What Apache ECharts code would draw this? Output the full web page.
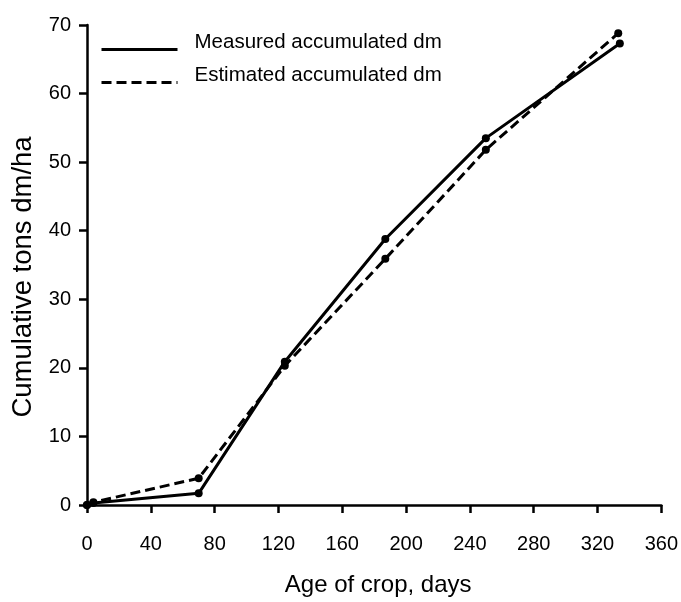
<!DOCTYPE html>
<html>
<head>
<meta charset="utf-8">
<script src="https://cdn.jsdelivr.net/npm/echarts@6/dist/echarts.min.js"></script>
<style>html,body{margin:0;padding:0;background:#fff;}#c{width:681px;height:602px;}</style>
</head>
<body>
<div id="c"></div>
<script>
var seriesNames = ['Measured accumulated dm', 'Estimated accumulated dm'];
var measuredX = [0, 4, 70, 124, 187, 250, 334];
var measuredY = [0, 0.3, 1.7, 20.9, 38.8, 53.5, 67.3];
var estimatedX = [0, 4, 70, 124, 187, 250, 333];
var estimatedY = [0, 0.4, 3.9, 20.3, 35.9, 51.8, 68.8];
var xTicks = [0, 40, 80, 120, 160, 200, 240, 280, 320, 360];
var yTicks = [0, 10, 20, 30, 40, 50, 60, 70];

function pairs(xs, ys) { return xs.map(function (x, i) { return [x, ys[i]]; }); }

var font = 'Liberation Sans, Arial, sans-serif';
var chart = echarts.init(document.getElementById('c'));
chart.setOption({
  animation: false,
  backgroundColor: '#fff',
  grid: { left: 87, right: 16, top: 25, bottom: 90, containLabel: false },
  legend: {
    orient: 'vertical', left: 95, top: 27, itemGap: 10, padding: 5,
    itemWidth: 76, itemHeight: 14,
    formatter: function (n) { return '{t|' + n + '}'; },
    textStyle: {
      color: '#000',
      rich: { t: { fontFamily: font, fontSize: 20.5, color: '#000', padding: [0, 0, 14, 12] } }
    },
    itemStyle: { color: 'transparent', borderWidth: 0, opacity: 0 },
    lineStyle: { width: 3 },
    data: seriesNames
  },
  xAxis: {
    type: 'value', min: 0, max: 360, interval: 40,
    name: 'Age of crop, days', nameLocation: 'middle', nameGap: 68,
    nameTextStyle: { fontFamily: font, fontSize: 24, color: '#000', padding: [0, 0, 0, 8] },
    axisLine: { show: true, lineStyle: { color: '#000', width: 2.5 } },
    axisTick: { show: true, length: 8, lineStyle: { color: '#000', width: 2.5 } },
    axisLabel: { margin: 29, fontFamily: font, fontSize: 20, color: '#000',
      formatter: function (v) { return xTicks.indexOf(v) >= 0 ? String(v) : ''; } },
    splitLine: { show: false }
  },
  yAxis: {
    type: 'value', min: 0, max: 70, interval: 10,
    name: 'Cumulative tons dm/ha', nameLocation: 'middle', nameGap: 48,
    nameTextStyle: { fontFamily: font, fontSize: 27.5, color: '#000', padding: [0, 24, 0, 0] },
    axisLine: { show: true, lineStyle: { color: '#000', width: 2.5 } },
    axisTick: { show: true, length: 8, lineStyle: { color: '#000', width: 2.5 } },
    axisLabel: { margin: 16, fontFamily: font, fontSize: 20, color: '#000',
      formatter: function (v) { return yTicks.indexOf(v) >= 0 ? String(v) : ''; } },
    splitLine: { show: false }
  },
  series: [
    {
      name: seriesNames[0], type: 'line', data: pairs(measuredX, measuredY),
      symbol: 'circle', symbolSize: 8,
      lineStyle: { color: '#000', width: 3, type: 'solid' },
      itemStyle: { color: '#000' }
    },
    {
      name: seriesNames[1], type: 'line', data: pairs(estimatedX, estimatedY),
      symbol: 'circle', symbolSize: 8,
      lineStyle: { color: '#000', width: 3, type: [10, 5] },
      itemStyle: { color: '#000' }
    }
  ]
});
</script>
</body>
</html>
